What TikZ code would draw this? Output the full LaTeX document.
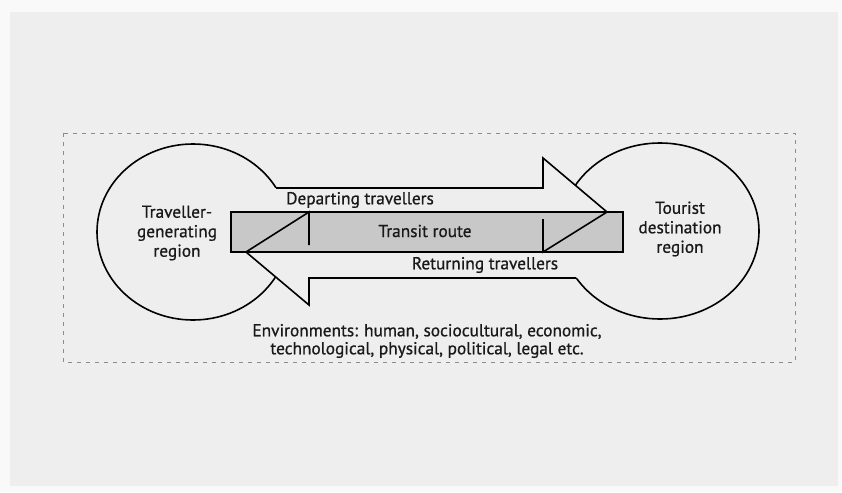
\documentclass[tikz,border=0pt]{standalone}
\usepackage{fontspec}
\setmainfont{PT Sans}[FakeBold=0.8]
\definecolor{pagebg}{HTML}{F9F9F9}
\definecolor{innerbg}{HTML}{EEEEEE}
\definecolor{routefill}{HTML}{C8C8C8}
\definecolor{framegray}{HTML}{8C8C8C}
\tikzset{
  outline/.style={draw=black, line width=1.6pt, line join=miter},
  lbl/.style={font=\fontsize{17.3}{19.5}\selectfont, align=center, inner sep=0pt, text=black!90},
  envlbl/.style={font=\fontsize{17.3}{18}\selectfont, align=center, inner sep=0pt, text=black!90},
}
\begin{document}
\begin{tikzpicture}[x=1pt,y=-1pt]
\useasboundingbox (0,0) rectangle (842,492);
\fill[pagebg] (0,0) rectangle (842,492);
\fill[innerbg] (10,12) rectangle (838,486);
\draw[framegray, dash pattern=on 4pt off 5pt, line width=1pt] (63,133) rectangle (795,362);
% regions
\draw[outline] (193,232) ellipse [x radius=96, y radius=88];
\draw[outline] (660,231) ellipse [x radius=99, y radius=88];
% arrow bodies hide the circle arcs
\fill[innerbg] (240,188) -- (543,188) -- (543,158) -- (607,212) -- (240,212) -- cycle;
\fill[innerbg] (246,252) -- (309,305) -- (309,278) -- (620,278) -- (620,252) -- cycle;
% transit route
\filldraw[fill=routefill, outline] (231,212) rectangle (623,252);
% departing arrow
\draw[outline] (276.1,188) -- (543,188) -- (543,158) -- (607,212) -- (543,252) -- (543,219);
% returning arrow
\draw[outline] (576.3,278) -- (309,278) -- (309,305) -- (246,252) -- (309,212) -- (309,245);
% labels
\node[lbl] (gen) at (177,233) {Traveller-\\generating\\region};
\node[lbl] (dest) at (680,229) {Tourist\\destination\\region};
\node[lbl] (dep) at (360,200) {Departing travellers};
\node[lbl] (tr) at (425,231) {Transit route};
\node[lbl] (ret) at (485,265) {Returning travellers};
\node[envlbl] (env) at (427,341) {Environments: human, sociocultural, economic,\\technological, physical, political, legal etc.};
\end{tikzpicture}
\end{document}
